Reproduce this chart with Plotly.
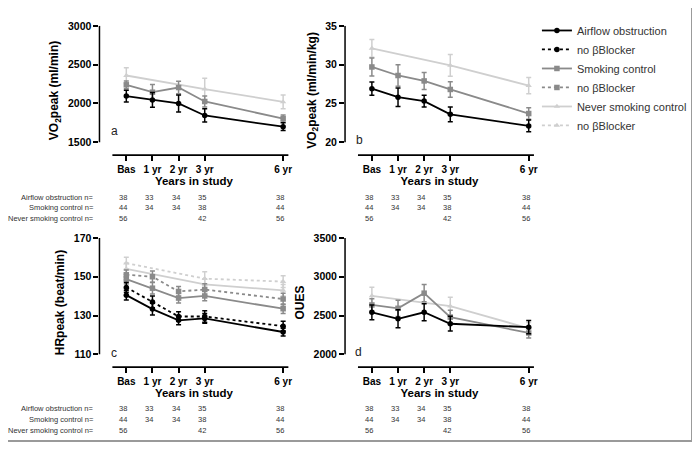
import plotly.graph_objects as go

years = [0, 1, 2, 3, 6]
years_never = [0, 3, 6]
year_labels = ["Bas", "1 yr", "2 yr", "3 yr", "6 yr"]

# panel a: VO2peak (ml/min)
vo2_af = [2095, 2045, 2000, 1845, 1700]
vo2_af_err = [75, 95, 110, 85, 50]
vo2_sc = [2240, 2145, 2205, 2025, 1805]
vo2_sc_err = [50, 100, 80, 70, 45]
vo2_ns = [2360, 2185, 2020]
vo2_ns_err = [100, 140, 90]

# panel b: VO2peak (ml/min/kg)
vo2kg_af = [26.9, 25.8, 25.3, 23.6, 22.1]
vo2kg_af_err = [0.85, 1.2, 0.75, 0.95, 0.75]
vo2kg_sc = [29.7, 28.6, 27.9, 26.8, 23.7]
vo2kg_sc_err = [1.15, 1.4, 1.1, 1.0, 0.75]
vo2kg_ns = [32.1, 29.9, 27.3]
vo2kg_ns_err = [1.15, 1.4, 1.05]

# panel c: HRpeak (beat/min), all and no beta-blocker
hr_af = [140.5, 133.3, 127.5, 128.5, 121.5]
hr_af_err = [2.5, 3.0, 2.2, 2.5, 2.0]
hr_af_nb = [144.5, 137.0, 129.5, 129.5, 124.5]
hr_af_nb_err = [2.5, 3.0, 2.5, 3.0, 2.5]
hr_sc = [148.8, 144.1, 139.0, 140.1, 133.5]
hr_sc_err = [2.5, 3.0, 2.5, 2.5, 2.5]
hr_sc_nb = [151.0, 150.0, 142.4, 143.4, 138.5]
hr_sc_nb_err = [2.5, 3.0, 2.5, 3.0, 3.0]
hr_ns = [154.0, 146.0, 143.0]
hr_ns_err = [3.0, 3.0, 3.0]
hr_ns_nb = [157.0, 149.0, 147.5]
hr_ns_nb_err = [3.0, 3.5, 3.0]

# panel d: OUES
oues_af = [2542, 2458, 2542, 2394, 2350]
oues_af_err = [95, 115, 110, 95, 85]
oues_sc = [2636, 2593, 2788, 2479, 2275]
oues_sc_err = [80, 105, 112, 90, 65]
oues_ns = [2754, 2620, 2335]
oues_ns_err = [110, 115, 75]

# n per group under each row of panels
row_labels = ["Airflow obstruction n=", "Smoking control n=", "Never smoking control n="]
n_af = [38, 33, 34, 35, 38]
n_sc = [44, 34, 34, 38, 44]
n_ns = [56, 42, 56]

BLACK = "#000000"
DARK = "#8a8a8a"
LIGHT = "#cfcfcf"
FONT = "Liberation Sans, Arial, sans-serif"

fig = go.Figure()


def add_series(xs, ys, err, color, symbol, ax, dash="solid", name=None, rank=None):
    fig.add_trace(go.Scatter(
        x=xs, y=ys, mode="lines+markers",
        line=dict(color=color, width=1.8, dash=dash),
        marker=dict(color=color, symbol=symbol, size=5.5),
        error_y=dict(type="data", array=err, color=color, thickness=1.5, width=2.5),
        xaxis="x" + ax, yaxis="y" + ax,
        name=name or "series", showlegend=name is not None,
        legendrank=rank if rank else 1000,
        cliponaxis=False,
    ))


panels = [
    ("", vo2_af, vo2_af_err, vo2_sc, vo2_sc_err, vo2_ns, vo2_ns_err),
    ("2", vo2kg_af, vo2kg_af_err, vo2kg_sc, vo2kg_sc_err, vo2kg_ns, vo2kg_ns_err),
    ("3", hr_af, hr_af_err, hr_sc, hr_sc_err, hr_ns, hr_ns_err),
    ("4", oues_af, oues_af_err, oues_sc, oues_sc_err, oues_ns, oues_ns_err),
]
for ax, af, afe, sc, sce, ns, nse in panels:
    first = ax == ""
    add_series(years_never, ns, nse, LIGHT, "triangle-up", ax,
               name="Never smoking control" if first else None, rank=5)
    add_series(years, sc, sce, DARK, "square", ax,
               name="Smoking control" if first else None, rank=3)
    add_series(years, af, afe, BLACK, "circle", ax,
               name="Airflow obstruction" if first else None, rank=1)

add_series(years_never, hr_ns_nb, hr_ns_nb_err, LIGHT, "triangle-up", "3", "dot", "no βBlocker", 6)
add_series(years, hr_sc_nb, hr_sc_nb_err, DARK, "square", "3", "dot", "no βBlocker", 4)
add_series(years, hr_af_nb, hr_af_nb_err, BLACK, "circle", "3", "dot", "no βBlocker", 2)

# the page puts the figure a few px in from the top-left corner; compensate
OFF_X, OFF_Y = 8, 10
W, H = 700 - OFF_X, 452 - OFF_Y


def px_x(p):
    return (p - OFF_X) / W


def px_y(p):
    return 1 - (p - OFF_Y) / H


xrange_ = [-27 / 26.3, 6.2]
xdom = [[px_x(100), px_x(290)], [px_x(347), px_x(537)]]
ydom = [[px_y(153), px_y(22)], [px_y(368), px_y(237)]]

yaxes = {
    "": ([1500, 3000], 500, "VO<sub>2</sub>peak (ml/min)"),
    "2": ([20, 35], 5, "VO<sub>2</sub>peak (ml/min/kg)"),
    "3": ([110, 170], 20, "HRpeak (beat/min)"),
    "4": ([2000, 3500], 500, "OUES"),
}
layout_axes = {}
shapes = []
for i, ax in enumerate(["", "2", "3", "4"]):
    col, row = i % 2, i // 2
    (lo, hi), dtick, title = yaxes[ax]
    bottom = lo - 13 * (hi - lo) / 118
    layout_axes["xaxis" + ax] = dict(
        domain=xdom[col], range=xrange_, anchor="y" + ax,
        tickvals=years, ticktext=year_labels, ticks="outside", ticklen=5,
        tickwidth=1.5, tickcolor="black", showline=False, showgrid=False, zeroline=False,
        tickfont=dict(size=10, family=FONT, color="black", weight="bold"),
        title=dict(text="Years in study", standoff=1,
                   font=dict(size=11.5, family=FONT, color="black", weight="bold")),
    )
    layout_axes["yaxis" + ax] = dict(
        domain=ydom[row], range=[bottom, hi], anchor="x" + ax,
        tick0=lo, dtick=dtick, ticks="outside", ticklen=5, tickwidth=1.5,
        tickcolor="black", showline=False, showgrid=False, zeroline=False,
        tickfont=dict(size=10.5, family=FONT, color="black", weight="bold"),
        title=dict(text=title, standoff=6,
                   font=dict(size=12, family=FONT, color="black", weight="bold")),
    )
    shapes.append(dict(type="line", xref="x" + ax + " domain", yref="y" + ax,
                       x0=0, x1=0, y0=lo, y1=hi, line=dict(color="black", width=1.5)))
    shapes.append(dict(type="line", xref="x" + ax + " domain", yref="y" + ax + " domain",
                       x0=13 / 190, x1=1, y0=0, y1=0, line=dict(color="black", width=1.8)))

# outer frame (right and bottom edges)
shapes.append(dict(type="path", xref="paper", yref="paper",
                   path=f"M 0,{px_y(443)} L {px_x(696)},{px_y(443)} L {px_x(696)},1.05",
                   line=dict(color="#9a9a9a", width=2)))

annotations = []
letters = [("a", 115, 129), ("b", 362, 138), ("c", 115, 354), ("d", 361, 353)]
for t, x, y in letters:
    annotations.append(dict(text=t, xref="paper", yref="paper", x=px_x(x), y=px_y(y),
                            xanchor="center", yanchor="middle", showarrow=False,
                            font=dict(size=12, family=FONT, color="#222")))

table_rows = [[196, 206.5, 217], [409.5, 421, 432.5]]
for row, ys in enumerate(table_rows):
    for label, yy in zip(row_labels, ys):
        annotations.append(dict(text=label, xref="paper", yref="paper", x=px_x(97), y=px_y(yy),
                                xanchor="right", yanchor="middle", showarrow=False,
                                font=dict(size=7.5, family=FONT, color="#333")))
    for col in range(2):
        ax = ["", "2", "3", "4"][row * 2 + col]
        for ns, xs, yy in [(n_af, years, ys[0]), (n_sc, years, ys[1]), (n_ns, years_never, ys[2])]:
            for n, xv in zip(ns, xs):
                annotations.append(dict(text=str(n), xref="x" + ax, yref="paper", x=xv,
                                        y=px_y(yy), xshift=-3, xanchor="center",
                                        yanchor="middle", showarrow=False,
                                        font=dict(size=7.5, family=FONT, color="#333")))

fig.update_layout(
    width=W, height=H,
    margin=dict(l=0, r=0, t=0, b=0),
    paper_bgcolor="white", plot_bgcolor="white",
    shapes=shapes, annotations=annotations,
    legend=dict(x=px_x(540), y=px_y(12), xanchor="left", yanchor="top",
                font=dict(size=11, family=FONT, color="#333"),
                itemwidth=30, tracegroupgap=0, bgcolor="rgba(0,0,0,0)"),
    **layout_axes,
)

fig.write_html("out.html")
